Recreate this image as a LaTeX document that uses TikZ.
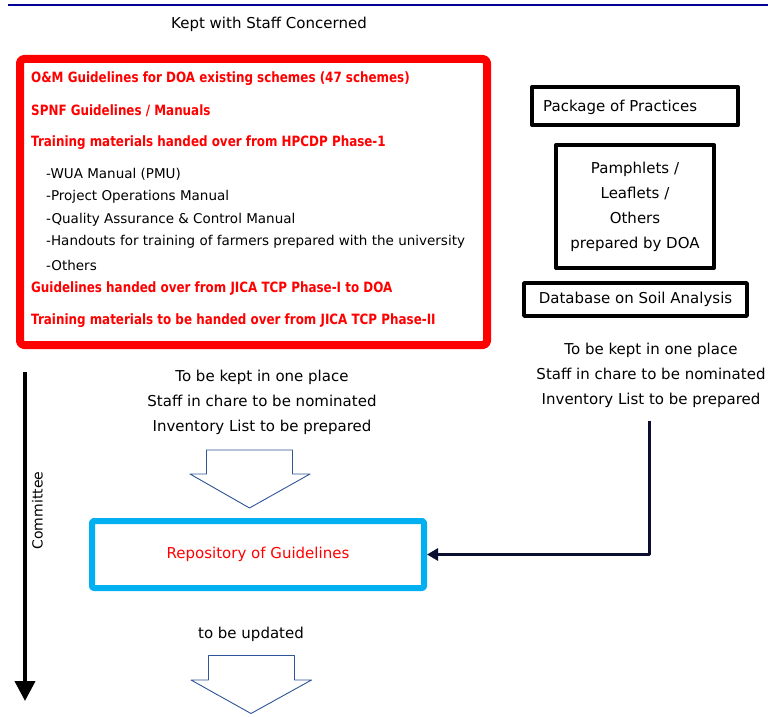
\documentclass[tikz,border=0pt]{standalone}
\usepackage{fontspec}
\setmainfont{DejaVu Sans}
\newfontfamily\narrowsans{DejaVu Sans}[FakeStretch=0.84]
\usetikzlibrary{arrows.meta}
\definecolor{boxred}{RGB}{255,0,0}
\definecolor{boxcyan}{RGB}{0,176,240}
\definecolor{linenavy}{RGB}{0,0,150}
\definecolor{blockblue}{RGB}{47,85,151}
\definecolor{linkdark}{RGB}{10,15,50}

\begin{document}
\begin{tikzpicture}[x=1pt,y=-1pt,line join=round,
	plain/.style={font=\fontsize{15}{25}\selectfont,inner sep=0pt,yshift=-1.5pt},
	redline/.style={font=\narrowsans\fontsize{14.2}{15}\selectfont\bfseries,text=boxred,anchor=west,inner sep=0pt,yshift=-1.5pt},
	itemline/.style={font=\fontsize{13.5}{15}\selectfont,anchor=west,inner sep=0pt,yshift=-1pt},
	blackbox/.style={draw,line width=4pt,inner sep=0pt},
	blockarrow/.style={draw=blockblue,line width=0.9pt,fill=white}]
	\useasboundingbox (0,0) rectangle (768,717);
	\path (8,5) coordinate (L0) (768,5) coordinate (L1);
	\draw[linenavy,line width=1.5pt] (L0)--(L1);
	\node[plain] (kept) at (269,23) {Kept with Staff Concerned};
	% red box with its lines
	\node[draw=boxred,line width=8pt,rounded corners=4pt,minimum width=467pt,minimum height=286pt] (guide) at (253.5,202) {};
	\foreach \y/\t in {77/{O\&M Guidelines for DOA existing schemes (47 schemes)},109/{SPNF Guidelines / Manuals},141/{Training materials handed over from HPCDP Phase-1},287/{Guidelines handed over from JICA TCP Phase-I to DOA},319/{Training materials to be handed over from JICA TCP Phase-II}}
	\node[redline] at (31,\y) {\t};
	\foreach \y/\t in {173/{WUA Manual (PMU)},196/{Project Operations Manual},219/{Quality Assurance \& Control Manual},241/{Handouts for training of farmers prepared with the university},264/{Others}}
	\node[itemline] at (46,\y) {-\t};
	% right column
	\node[blackbox,minimum width=206pt,minimum height=38pt] (pop) at (635,106) {};
	\node[plain,anchor=west] (poptxt) at (543,106) {Package of Practices};
	\node[blackbox,minimum width=158pt,minimum height=123pt,align=center,plain,line width=4pt,yshift=1.5pt] (pamph) at (635,206.5) {Pamphlets /\\Leaflets /\\Others\\prepared by DOA};
	\node[blackbox,line width=3.5pt,minimum width=223pt,minimum height=33pt,plain,yshift=1.5pt] (soil) at (635.5,299.5) {Database on Soil Analysis};
	\node[plain,align=center] (rnote) at (651,373.5) {To be kept in one place\\Staff in chare to be nominated\\Inventory List to be prepared};
	% middle flow
	\node[plain,align=center] (lnote) at (262,401) {To be kept in one place\\Staff in chare to be nominated\\Inventory List to be prepared};
	\draw[blockarrow] (206.5,450)--(292.5,450)--(292.5,474)--(310,474)--(249.5,508)--(190,474)--(206.5,474)--cycle;
	\node[draw=boxcyan,line width=6pt,rounded corners=2pt,minimum width=332pt,minimum height=67pt,plain,text=boxred,yshift=1.5pt] (repo) at (258,554.5) {Repository of Guidelines};
	\node[plain] (upd) at (251,633) {to be updated};
	\draw[blockarrow] (208.5,655.5)--(294.5,655.5)--(294.5,680)--(311.5,680)--(251,713.5)--(191,680)--(208.5,680)--cycle;
	% link and committee
	\path (649,421) coordinate (R0) (25,372) coordinate (C0) (25,701) coordinate (C1);
	\draw[linkdark,line width=3pt,-{Triangle[length=11pt,width=12pt]}] (R0) |- (repo.east);
	\draw[line width=4pt,-{Triangle[length=20pt,width=20pt]}] (C0)--(C1);
	\node[plain,font=\fontsize{14}{16}\selectfont,rotate=90,yshift=1.5pt] (comm) at (39,509) {Committee};
\end{tikzpicture}
\end{document}
